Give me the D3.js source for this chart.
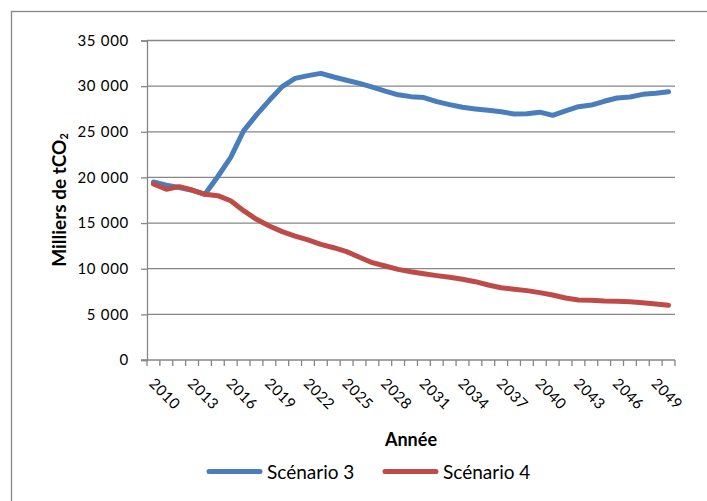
<!DOCTYPE html>
<html><head><meta charset="utf-8">
<script src="https://cdn.jsdelivr.net/npm/d3@7"></script>
<style>html,body{margin:0;padding:0;background:#fff;}svg{display:block;font-family:Lato,"Open Sans",sans-serif;}</style>
</head><body>
<svg id="chart" width="707" height="501"></svg>
<script>
const years = [2010,2011,2012,2013,2014,2015,2016,2017,2018,2019,2020,2021,2022,2023,2024,2025,2026,2027,2028,2029,2030,2031,2032,2033,2034,2035,2036,2037,2038,2039,2040,2041,2042,2043,2044,2045,2046,2047,2048,2049,2050];
const scenario3 = [19500,19150,18900,18600,18150,20100,22200,25100,26850,28450,29950,30850,31150,31400,31000,30650,30300,29900,29450,29050,28850,28750,28300,27970,27680,27500,27350,27200,26950,26980,27150,26800,27280,27750,27930,28340,28700,28810,29100,29220,29390];
const scenario4 = [19280,18700,18990,18620,18150,18000,17450,16360,15410,14680,14060,13580,13150,12670,12300,11870,11250,10660,10300,9930,9670,9450,9240,9060,8840,8580,8220,7920,7760,7600,7380,7120,6790,6570,6540,6460,6430,6370,6280,6130,5990];
const yTicks = [0,5000,10000,15000,20000,25000,30000,35000];
const yTickLabels = ["0","5 000","10 000","15 000","20 000","25 000","30 000","35 000"];
const xLabelYears = [2010,2013,2016,2019,2022,2025,2028,2031,2034,2037,2040,2043,2046,2049];
const seriesNames = ["Scénario 3","Scénario 4"];
const colors = ["#4A7EBB","#BE4B48"];

const svg = d3.select("#chart");
const L = 147, R = 675, T = 40.5, B = 360;
const x = d3.scaleBand().domain(years).range([L, R]);
const y = d3.scaleLinear().domain([0, 35000]).range([B, T]);
const grey = "#868686";

// outer border
svg.append("rect").attr("x",11.5).attr("y",11.5).attr("width",720).attr("height",520)
  .attr("fill","none").attr("stroke",grey).attr("stroke-width",1.3);

// gridlines
svg.append("g").selectAll("line").data(yTicks.filter(d=>d>0)).join("line")
  .attr("x1",L).attr("x2",R).attr("y1",d=>y(d)).attr("y2",d=>y(d))
  .attr("stroke",grey).attr("stroke-width",1.3);

// y axis
const yAxis = svg.append("g").attr("transform",`translate(${L},0)`)
  .call(d3.axisLeft(y).tickValues(yTicks).tickSize(6).tickPadding(12)
    .tickFormat((d,i)=>yTickLabels[i]));
yAxis.select(".domain").attr("stroke",grey).attr("stroke-width",1.3);
yAxis.selectAll(".tick line").attr("stroke",grey).attr("stroke-width",1.3);
yAxis.selectAll(".tick text").attr("font-family","Lato").attr("font-size",15).attr("letter-spacing",0.7).attr("fill","#000");

// x axis
const xg = svg.append("g");
xg.append("line").attr("x1",L-6).attr("x2",R).attr("y1",B).attr("y2",B).attr("stroke",grey).attr("stroke-width",1.3);
const bounds = years.map(d=>x(d)).concat([R]);
xg.selectAll("line.t").data(bounds).join("line").attr("class","t")
  .attr("x1",d=>d).attr("x2",d=>d).attr("y1",B).attr("y2",B+6)
  .attr("stroke",grey).attr("stroke-width",1.3);
xg.selectAll("text").data(xLabelYears).join("text")
  .attr("transform",d=>`translate(${x(d)+x.bandwidth()/2},368) rotate(45)`)
  .attr("x",8).attr("y",15.5).attr("font-size",15).attr("letter-spacing",0.4).attr("fill","#000")
  .text(d=>d);

// lines
const line = d3.line().x((d,i)=>x(years[i])+x.bandwidth()/2).y(d=>y(d));
[scenario3, scenario4].forEach((s,k)=>{
  svg.append("path").datum(s).attr("d",line).attr("fill","none")
    .attr("stroke",colors[k]).attr("stroke-width",5).attr("stroke-linejoin","round").attr("stroke-linecap","round");
});

// axis titles
const yt = svg.append("text").attr("transform","translate(66,200) rotate(-90)").attr("text-anchor","middle")
  .attr("font-weight","bold").attr("font-size",19).attr("fill","#000");
yt.append("tspan").text("Milliers de tCO");
yt.append("tspan").attr("font-size",11).attr("dy",2).text("2");
svg.append("text").attr("x",411).attr("y",446).attr("text-anchor","middle")
  .attr("font-weight","bold").attr("font-size",18).attr("fill","#000").text("Année");

// legend
const legX = [207, 383];
seriesNames.forEach((n,k)=>{
  svg.append("line").attr("x1",legX[k]+2).attr("x2",legX[k]+53).attr("y1",471.5).attr("y2",471.5)
    .attr("stroke",colors[k]).attr("stroke-width",5).attr("stroke-linecap","round");
  svg.append("text").attr("x",legX[k]+60).attr("y",479).attr("font-size",19).attr("fill","#000").text(n);
});
</script>
</body></html>
